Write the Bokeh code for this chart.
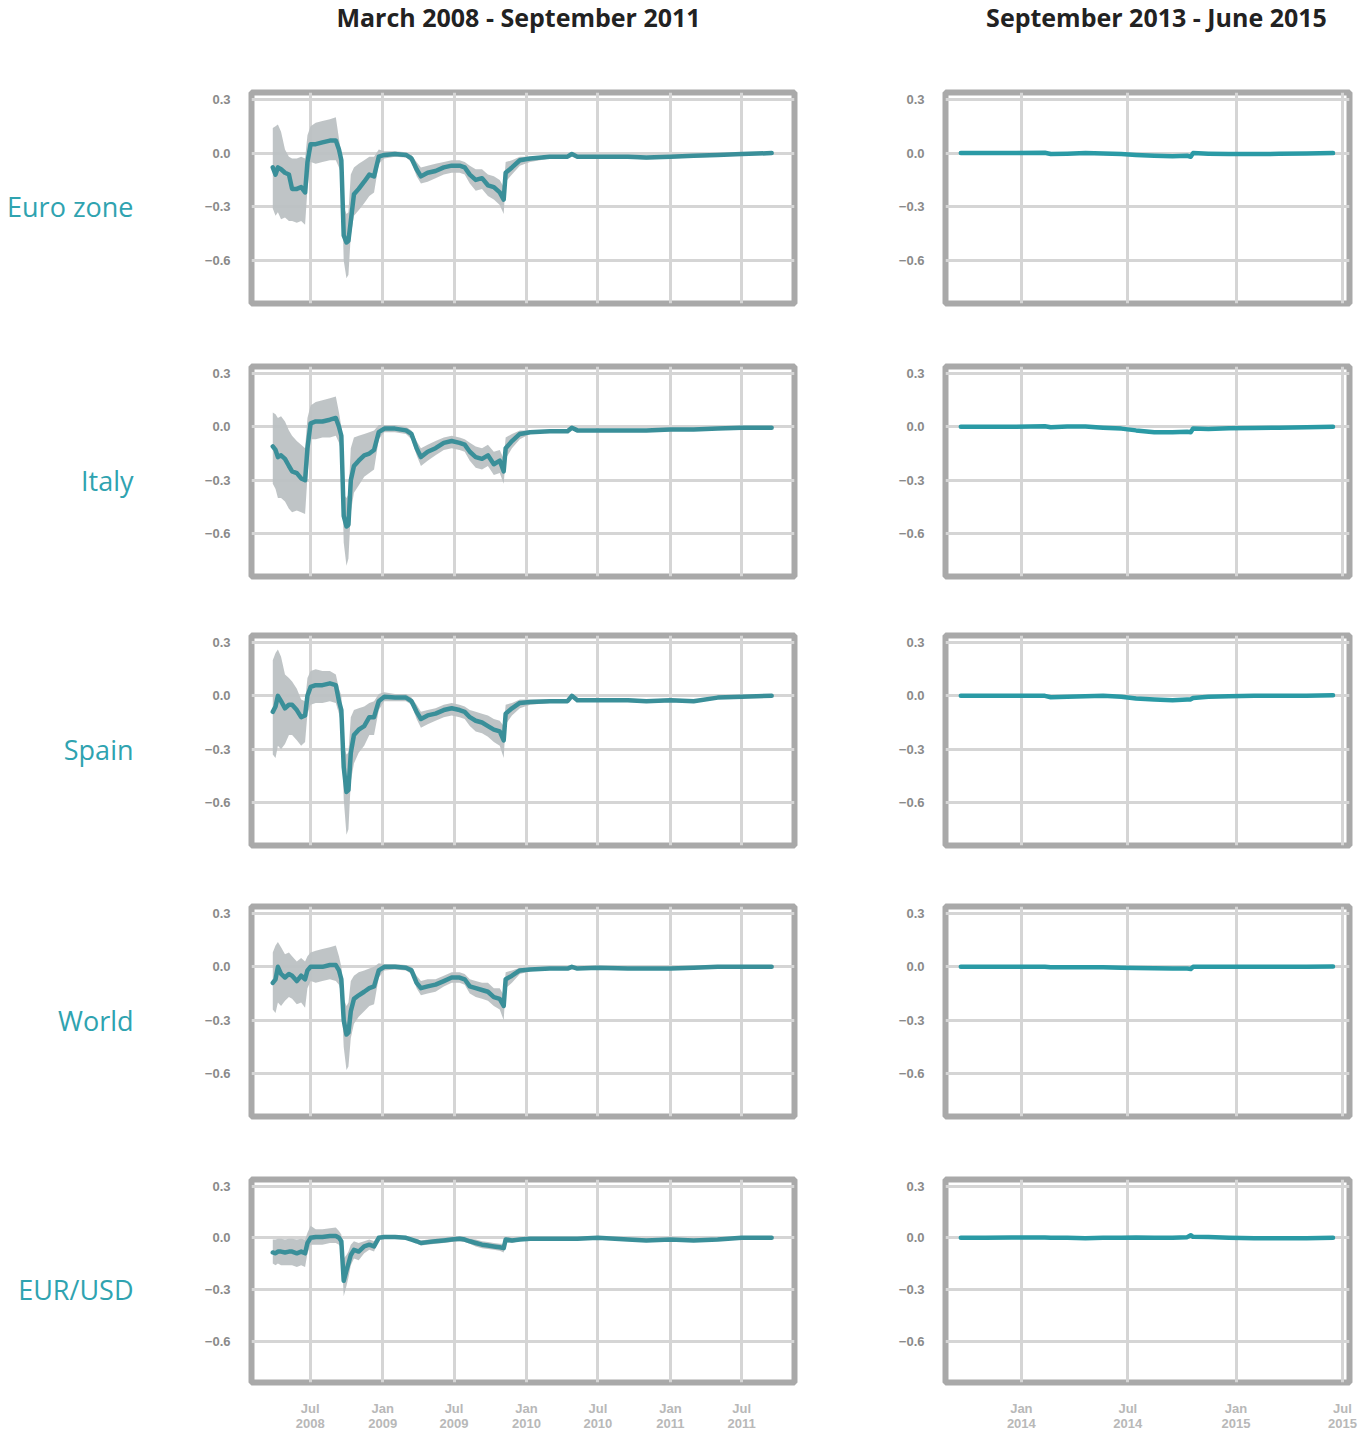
import pandas as pd
from bokeh.plotting import figure
from bokeh.models import Range1d, FixedTicker, CustomJSTickFormatter, Label, ColumnDataSource
from bokeh.layouts import column, row
from bokeh.embed import file_html
from bokeh.resources import INLINE

# ---------------- data ----------------
period_titles = ["March 2008 - September 2011", "September 2013 - June 2015"]
region_names = ["Euro zone", "Italy", "Spain", "World", "EUR/USD"]

left_dates = [
    "2008-03-28", "2008-04-04", "2008-04-10", "2008-04-18", "2008-04-28", "2008-05-08",
    "2008-05-16", "2008-05-28", "2008-06-08", "2008-06-18", "2008-06-24", "2008-07-02",
    "2008-07-15", "2008-08-01", "2008-08-20", "2008-09-04", "2008-09-12", "2008-09-18",
    "2008-09-24", "2008-10-01", "2008-10-06", "2008-10-12", "2008-10-20", "2008-11-01",
    "2008-11-15", "2008-11-28", "2008-12-10", "2008-12-22", "2009-01-05", "2009-02-01",
    "2009-03-01", "2009-03-15", "2009-03-28", "2009-04-08", "2009-04-25", "2009-05-15",
    "2009-06-05", "2009-06-25", "2009-07-15", "2009-07-28", "2009-08-10", "2009-08-25",
    "2009-09-10", "2009-09-25", "2009-10-10", "2009-10-25", "2009-11-04", "2009-11-09",
    "2009-11-25", "2009-12-15", "2010-01-10", "2010-03-01", "2010-04-15", "2010-04-26",
    "2010-05-10", "2010-07-01", "2010-09-15", "2010-11-01", "2011-01-01", "2011-03-01",
    "2011-05-01", "2011-07-01", "2011-09-15",
]

euro_mean = [-0.08, -0.12, -0.08, -0.09, -0.11, -0.12, -0.20, -0.20, -0.19, -0.22, -0.05, 0.05,
             0.05, 0.06, 0.07, 0.07, 0.02, -0.04, -0.46, -0.50, -0.49, -0.38, -0.23, -0.20,
             -0.16, -0.12, -0.13, -0.02, -0.01, -0.005, -0.01, -0.03, -0.09, -0.13, -0.11, -0.10,
             -0.08, -0.07, -0.07, -0.08, -0.12, -0.15, -0.14, -0.18, -0.19, -0.22, -0.26, -0.11,
             -0.08, -0.04, -0.03, -0.02, -0.02, -0.005, -0.02, -0.02, -0.02, -0.025, -0.02, -0.015,
             -0.01, -0.005, 0.0]
euro_upper = [0.14, 0.15, 0.16, 0.12, 0.02, -0.02, -0.03, -0.03, -0.02, -0.03, 0.10, 0.15,
              0.17, 0.18, 0.19, 0.20, 0.08, 0.0, -0.30, -0.34, -0.33, -0.12, -0.08, -0.06,
              -0.04, -0.02, -0.02, 0.02, 0.01, 0.01, 0.005, -0.01, -0.05, -0.08, -0.07, -0.06,
              -0.05, -0.04, -0.04, -0.05, -0.07, -0.09, -0.09, -0.12, -0.13, -0.15, -0.19, -0.05,
              -0.04, -0.02, -0.02, -0.015, -0.015, 0.0, -0.015, -0.015, -0.015, -0.02, -0.015, -0.01,
              -0.005, 0.0, 0.005]
euro_lower = [-0.31, -0.35, -0.33, -0.37, -0.36, -0.38, -0.38, -0.39, -0.38, -0.40, -0.20, -0.05,
              -0.06, -0.05, -0.04, -0.04, -0.08, -0.12, -0.60, -0.70, -0.68, -0.46, -0.35, -0.32,
              -0.28, -0.24, -0.22, -0.06, -0.03, -0.02, -0.025, -0.05, -0.13, -0.17, -0.16, -0.14,
              -0.12, -0.11, -0.11, -0.12, -0.17, -0.21, -0.20, -0.24, -0.26, -0.29, -0.34, -0.16,
              -0.12, -0.07, -0.05, -0.03, -0.03, -0.01, -0.03, -0.03, -0.03, -0.035, -0.03, -0.025,
              -0.02, -0.01, -0.005]

italy_mean = [-0.11, -0.13, -0.17, -0.16, -0.18, -0.22, -0.25, -0.26, -0.29, -0.30, -0.12, 0.02,
              0.03, 0.03, 0.04, 0.05, 0.0, -0.05, -0.50, -0.56, -0.55, -0.30, -0.22, -0.19,
              -0.16, -0.15, -0.13, -0.03, -0.01, -0.01, -0.02, -0.04, -0.12, -0.17, -0.14, -0.12,
              -0.09, -0.08, -0.09, -0.10, -0.14, -0.17, -0.18, -0.16, -0.21, -0.19, -0.25, -0.12,
              -0.08, -0.04, -0.03, -0.025, -0.025, -0.005, -0.02, -0.02, -0.02, -0.02, -0.015, -0.015,
              -0.01, -0.005, -0.005]
italy_upper = [0.08, 0.07, 0.05, 0.06, 0.03, -0.02, -0.05, -0.08, -0.10, -0.12, 0.05, 0.12,
               0.14, 0.15, 0.16, 0.17, 0.08, 0.0, -0.38, -0.40, -0.38, -0.12, -0.06, -0.05,
               -0.04, -0.03, -0.02, 0.01, 0.01, 0.01, 0.0, -0.02, -0.08, -0.12, -0.10, -0.08,
               -0.06, -0.05, -0.06, -0.07, -0.09, -0.11, -0.12, -0.10, -0.14, -0.13, -0.18, -0.06,
               -0.04, -0.02, -0.02, -0.02, -0.02, 0.0, -0.015, -0.015, -0.015, -0.015, -0.01, -0.01,
               -0.005, 0.0, 0.0]
italy_lower = [-0.32, -0.35, -0.40, -0.40, -0.42, -0.46, -0.48, -0.47, -0.48, -0.49, -0.28, -0.07,
               -0.07, -0.06, -0.06, -0.05, -0.09, -0.14, -0.65, -0.78, -0.74, -0.48, -0.37, -0.33,
               -0.28, -0.26, -0.24, -0.07, -0.03, -0.03, -0.04, -0.07, -0.16, -0.22, -0.19, -0.16,
               -0.13, -0.12, -0.13, -0.14, -0.19, -0.23, -0.24, -0.22, -0.27, -0.26, -0.32, -0.18,
               -0.12, -0.07, -0.04, -0.03, -0.03, -0.01, -0.025, -0.025, -0.025, -0.025, -0.02, -0.02,
               -0.015, -0.01, -0.01]

spain_mean = [-0.09, -0.06, 0.0, -0.03, -0.07, -0.05, -0.05, -0.08, -0.12, -0.11, 0.0, 0.05,
              0.06, 0.06, 0.07, 0.06, -0.03, -0.08, -0.40, -0.54, -0.53, -0.32, -0.22, -0.19,
              -0.17, -0.12, -0.12, -0.03, -0.005, -0.01, -0.01, -0.03, -0.09, -0.13, -0.11, -0.10,
              -0.08, -0.07, -0.08, -0.09, -0.12, -0.14, -0.15, -0.17, -0.19, -0.20, -0.25, -0.10,
              -0.07, -0.04, -0.035, -0.03, -0.03, 0.0, -0.025, -0.025, -0.025, -0.03, -0.025, -0.03,
              -0.01, -0.005, 0.0]
spain_upper = [0.20, 0.24, 0.26, 0.22, 0.12, 0.10, 0.08, 0.04, -0.02, -0.03, 0.10, 0.14,
               0.15, 0.14, 0.14, 0.12, 0.04, 0.0, -0.28, -0.33, -0.32, -0.12, -0.08, -0.07,
               -0.06, -0.04, -0.03, 0.01, 0.02, 0.01, 0.01, -0.01, -0.05, -0.09, -0.08, -0.07,
               -0.05, -0.04, -0.05, -0.06, -0.08, -0.09, -0.10, -0.11, -0.13, -0.14, -0.17, -0.05,
               -0.04, -0.02, -0.02, -0.02, -0.02, 0.01, -0.015, -0.015, -0.015, -0.02, -0.015, -0.02,
               -0.005, 0.0, 0.005]
spain_lower = [-0.33, -0.35, -0.28, -0.30, -0.27, -0.22, -0.22, -0.25, -0.28, -0.26, -0.10, -0.05,
               -0.04, -0.04, -0.03, -0.04, -0.10, -0.16, -0.58, -0.78, -0.75, -0.48, -0.38, -0.32,
               -0.28, -0.22, -0.22, -0.08, -0.03, -0.03, -0.03, -0.05, -0.13, -0.18, -0.16, -0.14,
               -0.12, -0.11, -0.12, -0.13, -0.17, -0.20, -0.21, -0.23, -0.26, -0.28, -0.35, -0.16,
               -0.11, -0.07, -0.05, -0.04, -0.04, -0.01, -0.035, -0.035, -0.035, -0.04, -0.035, -0.04,
               -0.015, -0.01, -0.005]

world_mean = [-0.09, -0.07, 0.0, -0.04, -0.06, -0.04, -0.05, -0.08, -0.05, -0.07, -0.02, 0.0,
              0.0, 0.0, 0.01, 0.01, -0.02, -0.07, -0.30, -0.38, -0.37, -0.25, -0.18, -0.16,
              -0.14, -0.12, -0.11, -0.02, 0.0, 0.0, -0.005, -0.02, -0.09, -0.12, -0.11, -0.10,
              -0.08, -0.06, -0.06, -0.07, -0.11, -0.12, -0.13, -0.14, -0.17, -0.18, -0.22, -0.07,
              -0.05, -0.02, -0.015, -0.01, -0.01, 0.0, -0.01, -0.005, -0.01, -0.01, -0.01, -0.005,
              0.0, 0.0, 0.0]
world_upper = [0.08, 0.12, 0.14, 0.11, 0.07, 0.08, 0.06, 0.03, 0.05, 0.03, 0.06, 0.08,
               0.09, 0.10, 0.11, 0.12, 0.06, 0.0, -0.18, -0.22, -0.20, -0.08, -0.05, -0.03,
               -0.02, -0.01, 0.0, 0.02, 0.015, 0.015, 0.01, 0.0, -0.05, -0.08, -0.07, -0.07,
               -0.05, -0.03, -0.03, -0.04, -0.07, -0.08, -0.09, -0.09, -0.12, -0.12, -0.16, -0.03,
               -0.02, -0.005, -0.005, -0.005, -0.005, 0.005, -0.005, 0.0, -0.005, -0.005, -0.005, 0.0,
               0.005, 0.005, 0.005]
world_lower = [-0.24, -0.26, -0.20, -0.22, -0.19, -0.17, -0.18, -0.21, -0.20, -0.23, -0.12, -0.08,
               -0.09, -0.08, -0.07, -0.08, -0.10, -0.15, -0.45, -0.58, -0.56, -0.40, -0.32, -0.28,
               -0.25, -0.22, -0.21, -0.06, -0.02, -0.015, -0.02, -0.04, -0.12, -0.16, -0.15, -0.14,
               -0.11, -0.09, -0.09, -0.10, -0.15, -0.17, -0.18, -0.19, -0.22, -0.24, -0.30, -0.12,
               -0.09, -0.04, -0.025, -0.015, -0.015, -0.005, -0.015, -0.01, -0.015, -0.015, -0.015, -0.01,
               -0.005, -0.005, -0.005]

eurusd_mean = [-0.085, -0.09, -0.08, -0.08, -0.085, -0.08, -0.08, -0.09, -0.08, -0.09, -0.03, 0.0,
               0.005, 0.005, 0.01, 0.01, 0.0, -0.02, -0.25, -0.19, -0.15, -0.10, -0.07, -0.08,
               -0.05, -0.04, -0.05, 0.0, 0.005, 0.005, 0.0, -0.01, -0.02, -0.03, -0.025, -0.02,
               -0.015, -0.01, -0.005, -0.01, -0.02, -0.03, -0.04, -0.045, -0.05, -0.055, -0.06, -0.01,
               -0.015, -0.01, -0.005, -0.005, -0.005, -0.005, -0.005, 0.0, -0.01, -0.015, -0.01, -0.015,
               -0.01, 0.0, 0.0]
eurusd_upper = [-0.01, -0.01, -0.005, -0.005, -0.01, -0.005, -0.005, -0.01, -0.005, -0.01, 0.03, 0.07,
                0.05, 0.05, 0.055, 0.06, 0.04, 0.02, -0.12, -0.10, -0.08, -0.04, -0.02, -0.03,
                -0.02, -0.01, -0.02, 0.01, 0.012, 0.012, 0.008, 0.0, -0.005, -0.015, -0.01, -0.005,
                0.0, 0.005, 0.01, 0.005, -0.005, -0.01, -0.02, -0.025, -0.03, -0.035, -0.035, 0.005,
                0.0, -0.002, 0.0, 0.0, 0.0, 0.0, 0.0, 0.005, -0.005, -0.01, -0.005, -0.01,
                -0.005, 0.003, 0.003]
eurusd_lower = [-0.15, -0.16, -0.15, -0.16, -0.16, -0.16, -0.16, -0.17, -0.16, -0.17, -0.09, -0.04,
                -0.04, -0.04, -0.03, -0.03, -0.04, -0.06, -0.34, -0.28, -0.23, -0.16, -0.12, -0.13,
                -0.09, -0.07, -0.08, -0.01, -0.002, -0.002, -0.008, -0.02, -0.035, -0.045, -0.04, -0.035,
                -0.03, -0.025, -0.02, -0.025, -0.035, -0.05, -0.06, -0.065, -0.07, -0.075, -0.085, -0.025,
                -0.03, -0.018, -0.01, -0.01, -0.01, -0.01, -0.01, -0.005, -0.015, -0.02, -0.015, -0.02,
                -0.015, -0.003, -0.003]

right_dates = [
    "2013-09-20", "2013-11-01", "2013-12-15", "2014-02-10", "2014-02-20", "2014-03-20",
    "2014-04-20", "2014-05-20", "2014-06-20", "2014-07-15", "2014-08-15", "2014-09-15",
    "2014-10-10", "2014-10-16", "2014-10-20", "2014-11-15", "2014-12-20", "2015-02-01",
    "2015-03-15", "2015-05-01", "2015-06-15",
]
euro_r_mean = [0.0, 0.0, 0.0, 0.002, -0.005, -0.003, 0.0, -0.002, -0.005, -0.01, -0.015,
               -0.018, -0.015, -0.02, 0.0, -0.003, -0.005, -0.005, -0.004, -0.002, 0.0]
euro_r_upper = [0.002, 0.002, 0.002, 0.005, -0.001, 0.001, 0.004, 0.002, 0.0, -0.004, -0.008,
                -0.01, -0.008, -0.012, 0.004, 0.0, -0.002, -0.002, -0.001, 0.0, 0.002]
euro_r_lower = [-0.002, -0.002, -0.002, -0.001, -0.009, -0.007, -0.004, -0.006, -0.01, -0.016, -0.022,
                -0.026, -0.022, -0.028, -0.004, -0.006, -0.008, -0.008, -0.007, -0.004, -0.002]

italy_r_mean = [0.0, 0.0, 0.0, 0.003, -0.002, 0.002, 0.002, -0.005, -0.01, -0.02, -0.03,
                -0.03, -0.028, -0.03, -0.01, -0.012, -0.008, -0.006, -0.005, -0.002, 0.0]
italy_r_upper = [0.002, 0.002, 0.002, 0.006, 0.002, 0.006, 0.006, 0.0, -0.004, -0.012, -0.02,
                 -0.02, -0.018, -0.02, -0.005, -0.007, -0.004, -0.003, -0.002, 0.0, 0.002]
italy_r_lower = [-0.002, -0.002, -0.002, 0.0, -0.006, -0.002, -0.002, -0.01, -0.016, -0.028, -0.04,
                 -0.04, -0.038, -0.04, -0.015, -0.017, -0.012, -0.009, -0.008, -0.004, -0.002]

spain_r_mean = [0.0, 0.0, 0.0, 0.0, -0.008, -0.005, -0.002, 0.0, -0.005, -0.015, -0.02,
                -0.025, -0.02, -0.02, -0.012, -0.005, -0.003, 0.0, 0.0, 0.0, 0.003]
spain_r_upper = [0.002, 0.002, 0.002, 0.002, -0.004, -0.001, 0.002, 0.003, -0.001, -0.009, -0.013,
                 -0.017, -0.013, -0.013, -0.007, -0.002, 0.0, 0.002, 0.002, 0.002, 0.005]
spain_r_lower = [-0.002, -0.002, -0.002, -0.002, -0.012, -0.009, -0.006, -0.003, -0.009, -0.021, -0.027,
                 -0.033, -0.027, -0.027, -0.017, -0.008, -0.006, -0.002, -0.002, -0.002, 0.001]

world_r_mean = [0.0, 0.0, 0.0, 0.0, -0.003, -0.002, -0.002, -0.003, -0.005, -0.006, -0.008,
                -0.01, -0.01, -0.012, 0.0, 0.0, 0.0, 0.0, 0.0, 0.0, 0.002]
world_r_upper = [0.002, 0.002, 0.002, 0.002, 0.0, 0.001, 0.001, 0.0, -0.002, -0.003, -0.004,
                 -0.006, -0.006, -0.007, 0.002, 0.002, 0.002, 0.002, 0.002, 0.002, 0.004]
world_r_lower = [-0.002, -0.002, -0.002, -0.002, -0.006, -0.005, -0.005, -0.006, -0.008, -0.009, -0.012,
                 -0.014, -0.014, -0.017, -0.002, -0.002, -0.002, -0.002, -0.002, -0.002, 0.0]

eurusd_r_mean = [0.0, 0.0, 0.002, 0.002, 0.0, 0.0, -0.002, 0.0, 0.0, 0.002, 0.0,
                 0.0, 0.004, 0.015, 0.006, 0.005, 0.0, -0.003, -0.003, -0.002, 0.0]
eurusd_r_upper = [0.002, 0.002, 0.004, 0.004, 0.002, 0.002, 0.0, 0.002, 0.002, 0.004, 0.002,
                  0.002, 0.007, 0.02, 0.009, 0.008, 0.002, 0.0, 0.0, 0.0, 0.002]
eurusd_r_lower = [-0.002, -0.002, 0.0, 0.0, -0.002, -0.002, -0.004, -0.002, -0.002, 0.0, -0.002,
                  -0.002, 0.001, 0.01, 0.003, 0.002, -0.002, -0.006, -0.006, -0.004, -0.002]

left_series = [
    (euro_mean, euro_lower, euro_upper),
    (italy_mean, italy_lower, italy_upper),
    (spain_mean, spain_lower, spain_upper),
    (world_mean, world_lower, world_upper),
    (eurusd_mean, eurusd_lower, eurusd_upper),
]
right_series = [
    (euro_r_mean, euro_r_lower, euro_r_upper),
    (italy_r_mean, italy_r_lower, italy_r_upper),
    (spain_r_mean, spain_r_lower, spain_r_upper),
    (world_r_mean, world_r_lower, world_r_upper),
    (eurusd_r_mean, eurusd_r_lower, eurusd_r_upper),
]

left_ticks = ["2008-07-01", "2009-01-01", "2009-07-01", "2010-01-01",
              "2010-07-01", "2011-01-01", "2011-07-01"]
right_ticks = ["2014-01-01", "2014-07-01", "2015-01-01", "2015-07-01"]
left_window = ("2008-02-03", "2011-11-12")
right_window = ("2013-08-25", "2015-07-13")
y_ticks = [-0.6, -0.3, 0.0, 0.3]
y_window = (-0.841, 0.339)

# ---------------- styling / layout ----------------
FRAME = "#a9a9a9"
GRID = "#d5d5d5"
BAND = "#bcc1c3"
LINE_L = "#3a8f99"
LINE_R = "#2a9aa5"
LABEL_TEAL = "#2fa3b0"

HEADER_H = 62
LABEL_W = 140
row_heights = [272, 269, 271, 274, 285]
row_tops = [30, 32, 32, 32, 31]
row_bottoms = [31, 27, 29, 32, 50]


def ms(d):
    return pd.Timestamp(d).value // 10**6


x_fmt_code = """
const d = new Date(tick);
const m = d.getUTCMonth();
return (m == 0 ? "Jan" : "Jul") + "\\n" + d.getUTCFullYear();
"""
y_fmt_code = "return tick.toFixed(1).replace('-', '\\u2212');"


def blank_figure(width, height, y_range=None, top=0, bottom=0):
    p = figure(width=width, height=height,
               x_range=Range1d(0, 1), y_range=y_range if y_range is not None else Range1d(0, 1),
               output_backend="svg", toolbar_location=None,
               x_axis_location=None, y_axis_location=None,
               min_border_left=0, min_border_right=0,
               min_border_top=top, min_border_bottom=bottom)
    p.grid.visible = False
    p.outline_line_color = None
    p.background_fill_color = "white"
    p.border_fill_color = "white"
    return p


def make_panel(dates, series, window, ticks, width, bl, br, ri, line_color, show_x):
    mean, lower, upper = series
    src = ColumnDataSource(dict(x=[ms(d) for d in dates], y=mean, lo=lower, hi=upper))
    p = figure(width=width, height=row_heights[ri], x_axis_type="datetime",
               x_range=Range1d(ms(window[0]), ms(window[1])),
               y_range=Range1d(*y_window),
               output_backend="svg", toolbar_location=None,
               min_border_left=bl, min_border_right=br,
               min_border_top=row_tops[ri], min_border_bottom=row_bottoms[ri],
               x_axis_location="below" if show_x else None)
    p.outline_line_color = FRAME
    p.outline_line_width = 6
    p.background_fill_color = "white"
    p.border_fill_color = "white"

    tick_ms = [ms(t) for t in ticks]
    p.xgrid.ticker = FixedTicker(ticks=tick_ms)
    p.ygrid.ticker = FixedTicker(ticks=y_ticks)
    for g in (p.xgrid, p.ygrid):
        g.grid_line_color = GRID
        g.grid_line_width = 3

    p.yaxis.ticker = FixedTicker(ticks=y_ticks)
    p.yaxis.formatter = CustomJSTickFormatter(code=y_fmt_code)
    p.yaxis.axis_line_color = None
    p.yaxis.major_tick_line_color = None
    p.yaxis.minor_tick_line_color = None
    p.yaxis.major_tick_out = 0
    p.yaxis.major_tick_in = 0
    p.yaxis.major_label_standoff = 21
    p.yaxis.major_label_text_font = "Liberation Sans"
    p.yaxis.major_label_text_font_style = "bold"
    p.yaxis.major_label_text_font_size = "13px"
    p.yaxis.major_label_text_color = "#8a8a8a"

    if show_x:
        p.xaxis.ticker = FixedTicker(ticks=tick_ms)
        p.xaxis.formatter = CustomJSTickFormatter(code=x_fmt_code)
        p.xaxis.axis_line_color = None
        p.xaxis.major_tick_line_color = None
        p.xaxis.minor_tick_line_color = None
        p.xaxis.major_tick_out = 0
        p.xaxis.major_tick_in = 0
        p.xaxis.major_label_standoff = 18
        p.xaxis.major_label_text_font = "Liberation Sans"
        p.xaxis.major_label_text_font_style = "bold"
        p.xaxis.major_label_text_font_size = "13px"
        p.xaxis.major_label_text_line_height = 1.0
        p.xaxis.major_label_text_color = "#b8b8b8"

    p.varea(x="x", y1="lo", y2="hi", source=src, fill_color=BAND, fill_alpha=0.95)
    p.line(x="x", y="y", source=src, line_color=line_color, line_width=4.5,
           line_join="round", line_cap="round")
    return p


LEFT_W = 111 + 543 + 10
RIGHT_W = 141 + 404 + 12

# header with the two period titles
header = blank_figure(LABEL_W + LEFT_W + RIGHT_W, HEADER_H)
header.add_layout(Label(x=518, y=HEADER_H - 16, x_units="screen", y_units="screen",
                        text=period_titles[0], text_align="center", text_baseline="middle",
                        text_font="Open Sans", text_font_style="bold", text_font_size="25px",
                        text_color="#222222"))
header.add_layout(Label(x=1156, y=HEADER_H - 16, x_units="screen", y_units="screen",
                        text=period_titles[1], text_align="center", text_baseline="middle",
                        text_font="Open Sans", text_font_style="bold", text_font_size="25px",
                        text_color="#222222"))

rows = [header]
for i in range(5):
    lab = blank_figure(LABEL_W, row_heights[i], y_range=Range1d(*y_window),
                       top=row_tops[i], bottom=row_bottoms[i])
    lab.add_layout(Label(x=133, y=-0.3, x_units="screen", y_units="data",
                         text=region_names[i], text_align="right", text_baseline="middle",
                         text_font="Open Sans", text_font_size="27px",
                         text_color=LABEL_TEAL))
    pl = make_panel(left_dates, left_series[i], left_window, left_ticks,
                    LEFT_W, 111, 10, i, LINE_L, i == 4)
    pr = make_panel(right_dates, right_series[i], right_window, right_ticks,
                    RIGHT_W, 141, 12, i, LINE_R, i == 4)
    rows.append(row(lab, pl, pr))

layout = column(*rows)
open("out.html", "w").write(file_html(layout, INLINE))
